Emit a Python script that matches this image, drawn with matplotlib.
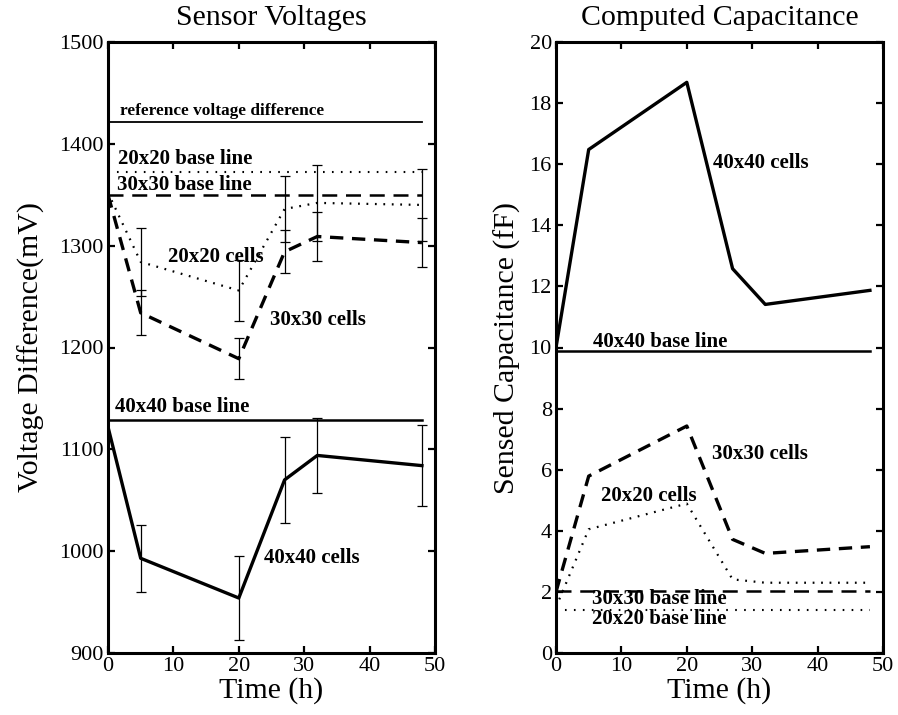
import matplotlib
matplotlib.use("Agg")
import matplotlib.pyplot as plt

plt.rcParams['font.family'] = ['Liberation Serif', 'DejaVu Serif']

# ---- data ----
time_h = [0, 5, 20, 27, 32, 48]
base_span = [0, 48]

# Sensor voltages (mV)
v_40 = [1122, 993, 954, 1070, 1094, 1084]
v_40_err = [0, 33, 41, 42, 37, 40]
v_30 = [1350, 1234, 1189, 1294, 1309, 1303]
v_30_err = [0, 22, 20, 21, 24, 24]
v_20 = [1352, 1284, 1256, 1336, 1342, 1340]
v_20_err = [0, 33, 30, 32, 37, 35]
v_reference = 1421
v_base_40 = 1129
v_base_30 = 1350
v_base_20 = 1372

# Computed capacitance (fF)
c_40 = [10.0, 16.48, 18.68, 12.58, 11.41, 11.87]
c_30 = [2.0, 5.79, 7.43, 3.72, 3.26, 3.48]
c_20 = [1.5, 4.05, 4.89, 2.41, 2.30, 2.30]
c_base_40 = 9.87
c_base_30 = 2.02
c_base_20 = 1.41

left_yticks = [900, 1000, 1100, 1200, 1300, 1400, 1500]
right_yticks = [0, 2, 4, 6, 8, 10, 12, 14, 16, 18, 20]
xticks = [0, 10, 20, 30, 40, 50]

# ---- styling ----
W, H = 898, 715
fig = plt.figure(figsize=(W / 100, H / 100), dpi=100)
axL = fig.add_axes([108 / W, 1 - 653 / H, 327 / W, 611 / H])
axR = fig.add_axes([556 / W, 1 - 653 / H, 327 / W, 611 / H])

data_lw = 2.4
dash_data = (0, (4, 2.6))
dot_data = (0, (0.8, 3.0))
dash_base = (0, (6, 3.5))
dot_base = (0, (0.8, 3.5))
ann = dict(fontsize=15, fontweight='bold', ha='left', va='center')

def style(ax):
    for s in ax.spines.values():
        s.set_linewidth(2.2)
    ax.tick_params(direction='in', length=5, width=1.6, top=True, right=True,
                   labelsize=16, pad=3)
    ax.set_xlim(0, 50)
    ax.set_xticks(xticks)

# Left panel
ax = axL
ax.plot(base_span, [v_reference] * 2, color='black', lw=1.3)
ax.plot(base_span, [v_base_40] * 2, color='black', lw=1.8)
ax.plot(base_span, [v_base_30] * 2, color='black', lw=1.8, linestyle=dash_base)
ax.plot(base_span, [v_base_20] * 2, color='black', lw=1.5, linestyle=dot_base)

ax.plot(time_h, v_40, color='black', lw=data_lw)
ax.plot(time_h, v_30, color='black', lw=data_lw, linestyle=dash_data)
ax.plot(time_h, v_20, color='black', lw=1.6, linestyle=dot_data)
for vals, errs in ((v_40, v_40_err), (v_30, v_30_err), (v_20, v_20_err)):
    ax.errorbar(time_h[1:], vals[1:], yerr=errs[1:], fmt='none', ecolor='black',
                elinewidth=0.9, capsize=3.5, capthick=0.9)

ax.text(1.8, 1432, 'reference voltage difference', fontsize=12.4,
        fontweight='bold', ha='left', va='center')
ax.text(1.5, 1385, '20x20 base line', **ann)
ax.text(1.4, 1360, '30x30 base line', **ann)
ax.text(9.2, 1289, '20x20 cells', **ann)
ax.text(24.8, 1227, '30x30 cells', **ann)
ax.text(1.1, 1142, '40x40 base line', **ann)
ax.text(23.8, 993, '40x40 cells', **ann)

style(ax)
ax.set_ylim(900, 1500)
ax.set_yticks(left_yticks)
ax.set_title('Sensor Voltages', fontsize=21.5, pad=12)
ax.set_xlabel('Time (h)', fontsize=21.5, labelpad=1)
ax.set_ylabel('Voltage Difference(mV)', fontsize=21.5, labelpad=10)

# Right panel
ax = axR
ax.plot(base_span, [c_base_40] * 2, color='black', lw=1.8)
ax.plot(base_span, [c_base_30] * 2, color='black', lw=1.8, linestyle=dash_base)
ax.plot(base_span, [c_base_20] * 2, color='black', lw=1.5, linestyle=dot_base)
ax.plot(time_h, c_40, color='black', lw=data_lw)
ax.plot(time_h, c_30, color='black', lw=data_lw, linestyle=dash_data)
ax.plot(time_h, c_20, color='black', lw=1.6, linestyle=dot_data)

ax.text(24.0, 16.05, '40x40 cells', **ann)
ax.text(5.7, 10.19, '40x40 base line', **ann)
ax.text(23.9, 6.5, '30x30 cells', **ann)
ax.text(6.9, 5.14, '20x20 cells', **ann)
ax.text(5.5, 1.77, '30x30 base line', **ann)
ax.text(5.5, 1.11, '20x20 base line', **ann)

style(ax)
ax.set_ylim(0, 20)
ax.set_yticks(right_yticks)
ax.set_title('Computed Capacitance', fontsize=21.5, pad=12)
ax.set_xlabel('Time (h)', fontsize=21.5, labelpad=1)
ax.set_ylabel('Sensed Capacitance (fF)', fontsize=21.5, labelpad=6)

fig.savefig('out.png', dpi=100)
